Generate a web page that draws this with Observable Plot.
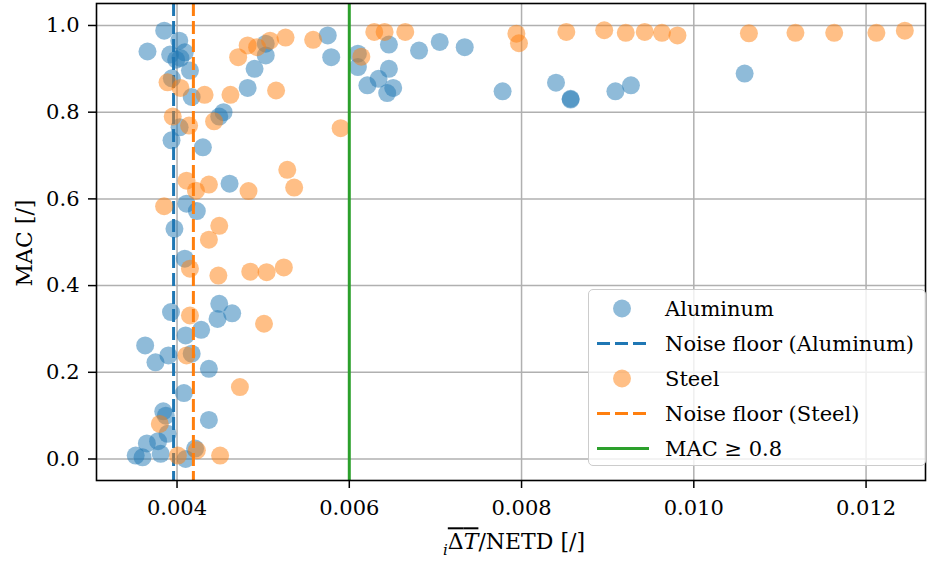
<!DOCTYPE html>
<html>
<head>
<meta charset="utf-8">
<script src="https://cdn.jsdelivr.net/npm/d3@7"></script>
<script src="https://cdn.jsdelivr.net/npm/@observablehq/plot@0.6"></script>
<style>
  html, body { margin: 0; padding: 0; background: #fff; }
  #wrap { position: relative; width: 936px; height: 562px; font-family: "DejaVu Serif", "Liberation Serif", serif; color: #000; }
  #ylab { position: absolute; left: 24px; top: 243px; transform: translate(-50%, -50%) rotate(-90deg); font-size: 22px; white-space: nowrap; }
  #xlab { position: absolute; left: 514px; top: 544px; transform: translate(-50%, -50%); font-size: 22px; white-space: nowrap; }
  #xlab .ov { text-decoration: overline; }
  #legend { position: absolute; left: 588px; top: 289px; width: 338px; height: 177px; box-sizing: border-box;
            border: 1.5px solid #cccccc; border-radius: 5px; background: rgba(255,255,255,0.8); }
  .row { position: absolute; left: 0; height: 35px; width: 100%; }
  .row svg { position: absolute; left: 6px; top: 0; }
  .row span { position: absolute; left: 76px; top: 50%; transform: translateY(-50%); font-size: 21px; white-space: nowrap; }
</style>
</head>
<body>
<div id="wrap"></div>
<script>
// ---- data ----
const alX = [0.003851,0.004026,0.003657,0.00392,0.00399,0.00404,0.00409,0.00415,0.00394,0.00417,
  0.00490,0.00503,0.00503,0.00482,0.00454,0.00449,0.00403,0.003936,0.00430,0.00461,
  0.00411,0.00423,0.00397,0.00409,0.00393,0.00449,0.00464,0.00447,0.00428,0.00410,
  0.00363,0.00390,0.00375,0.00417,0.00437,0.00408,0.00384,0.00387,0.00437,0.00389,
  0.00378,0.00365,0.00352,0.00360,0.00381,0.00410,0.00421,0.00575,0.00579,0.00646,
  0.00610,0.00610,0.00646,0.00634,0.00621,0.00651,0.00644,0.00681,0.00705,0.00734,
  0.00778,0.00840,0.00857,0.00857,0.00909,0.00927,0.01059];
const alY = [0.988,0.965,0.940,0.933,0.921,0.925,0.938,0.896,0.878,0.835,
  0.900,0.931,0.958,0.856,0.800,0.790,0.765,0.735,0.719,0.635,
  0.589,0.572,0.531,0.462,0.339,0.358,0.336,0.323,0.298,0.285,
  0.262,0.239,0.223,0.243,0.208,0.152,0.110,0.100,0.090,0.058,
  0.041,0.036,0.008,0.004,0.012,0.000,0.024,0.977,0.927,0.956,
  0.935,0.904,0.900,0.877,0.862,0.856,0.844,0.942,0.962,0.950,
  0.848,0.868,0.829,0.831,0.848,0.862,0.889];
const stX = [0.00482,0.00493,0.00508,0.00526,0.00471,0.00389,0.00404,0.00432,0.00462,0.00515,
  0.00395,0.00443,0.00414,0.00528,0.00411,0.00422,0.00437,0.00483,0.00536,0.00385,
  0.00449,0.00437,0.00415,0.00448,0.00485,0.00504,0.00524,0.00415,0.00501,0.00411,
  0.00473,0.00380,0.00401,0.00423,0.00450,0.00558,0.00590,0.00629,0.00641,0.00665,
  0.00614,0.00794,0.00797,0.00852,0.00896,0.00921,0.00943,0.00963,0.00981,0.01064,
  0.01118,0.01163,0.01212,0.01245];
const stY = [0.954,0.950,0.965,0.972,0.927,0.869,0.856,0.840,0.840,0.850,
  0.790,0.779,0.769,0.667,0.642,0.619,0.633,0.618,0.626,0.583,
  0.538,0.506,0.439,0.423,0.432,0.431,0.442,0.331,0.312,0.239,
  0.166,0.081,0.008,0.020,0.008,0.967,0.763,0.985,0.985,0.985,
  0.928,0.981,0.959,0.985,0.989,0.983,0.985,0.983,0.977,0.982,
  0.983,0.983,0.983,0.988];
const noiseFloorAl = [0.00396];
const noiseFloorSt = [0.00419];
const macThreshold = [0.006];
const xTicks = [0.004, 0.006, 0.008, 0.010, 0.012];
const yTicks = [0.0, 0.2, 0.4, 0.6, 0.8, 1.0];
const seriesNames = ["Aluminum", "Noise floor (Aluminum)", "Steel", "Noise floor (Steel)", "MAC ≥ 0.8"];

const alum = alX.map((x, i) => ({x, y: alY[i]}));
const steel = stX.map((x, i) => ({x, y: stY[i]}));

const BLUE = "#1f77b4", ORANGE = "#ff7f0e", GREEN = "#2ca02c", GRID = "#b0b0b0";
const SERIF = "DejaVu Serif";

const chart = Plot.plot({
  width: 936, height: 562,
  marginLeft: 96, marginRight: 11, marginTop: 3, marginBottom: 82,
  style: {fontFamily: "'DejaVu Serif', 'Liberation Serif', serif", fontSize: "21px", color: "#000", background: "transparent"},
  x: {domain: [0.003065, 0.01269]},
  y: {domain: [-0.0496, 1.0507]},
  marks: [
    Plot.gridX(xTicks, {stroke: GRID, strokeOpacity: 1, strokeWidth: 1.5}),
    Plot.gridY(yTicks, {stroke: GRID, strokeOpacity: 1, strokeWidth: 1.5}),
    Plot.dot(alum, {x: "x", y: "y", r: 9, fill: BLUE, fillOpacity: 0.5, stroke: null}),
    Plot.ruleX(noiseFloorAl, {stroke: BLUE, strokeWidth: 3, strokeDasharray: "13,5"}),
    Plot.dot(steel, {x: "x", y: "y", r: 9, fill: ORANGE, fillOpacity: 0.5, stroke: null}),
    Plot.ruleX(noiseFloorSt, {stroke: ORANGE, strokeWidth: 3, strokeDasharray: "13,5"}),
    Plot.ruleX(macThreshold, {stroke: GREEN, strokeWidth: 3}),
    Plot.frame({stroke: "#000", strokeWidth: 1.6}),
    Plot.axisX(xTicks, {tickSize: 8, tickPadding: 12, strokeWidth: 1.5, fontFamily: SERIF, fontSize: 21, tickFormat: d3.format(".3f"), label: null}),
    Plot.axisY(yTicks, {tickSize: 8, tickPadding: 9, strokeWidth: 1.5, fontFamily: SERIF, fontSize: 21, tickFormat: d3.format(".1f"), label: null})
  ]
});
const wrap = document.getElementById("wrap");
wrap.appendChild(chart);

// axis titles
const ylab = document.createElement("div");
ylab.id = "ylab"; ylab.textContent = "MAC [/]";
wrap.appendChild(ylab);
const xlab = document.createElement("div");
xlab.id = "xlab";
xlab.innerHTML = '<sub style="font-style:italic;font-size:15px">i</sub><span class="ov">Δ<i>T</i></span>/NETD [/]';
wrap.appendChild(xlab);

// legend
const legend = document.createElement("div");
legend.id = "legend";
const kinds = ["dot", "dash", "dot", "dash", "solid"];
const colors = [BLUE, BLUE, ORANGE, ORANGE, GREEN];
seriesNames.forEach((name, i) => {
  const row = document.createElement("div");
  row.className = "row";
  row.style.top = (1 + i * 35) + "px";
  let sym;
  if (kinds[i] === "dot") sym = `<circle cx="27" cy="17.5" r="9" fill="${colors[i]}" fill-opacity="0.5"/>`;
  else if (kinds[i] === "dash") sym = `<line x1="2" x2="52" y1="17.5" y2="17.5" stroke="${colors[i]}" stroke-width="3" stroke-dasharray="13,5"/>`;
  else sym = `<line x1="2" x2="54" y1="17.5" y2="17.5" stroke="${colors[i]}" stroke-width="3"/>`;
  row.innerHTML = `<svg width="60" height="35">${sym}</svg><span>${name}</span>`;
  legend.appendChild(row);
});
wrap.appendChild(legend);
</script>
</body>
</html>
